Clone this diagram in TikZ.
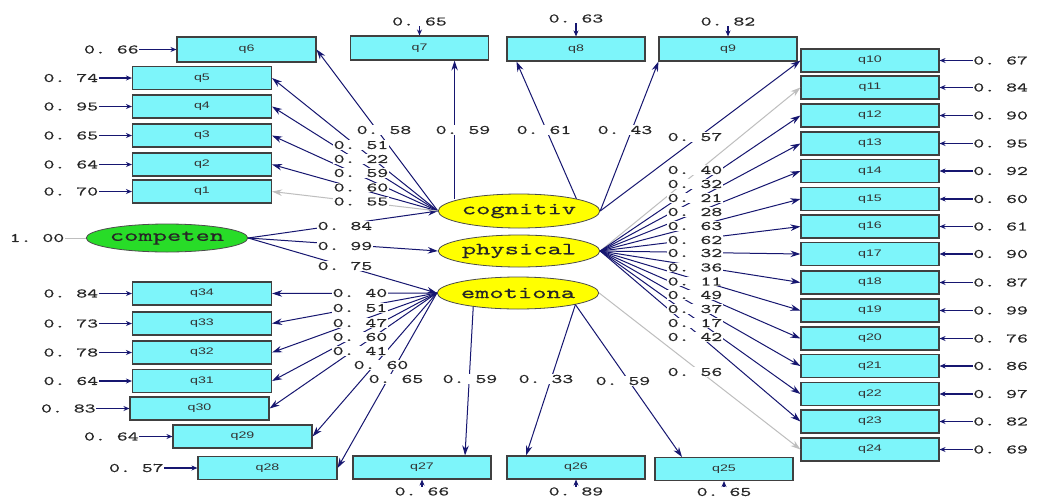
\documentclass[tikz,border=0pt]{standalone}
\usepackage{fontspec}
\usetikzlibrary{arrows.meta,shapes.geometric}
\newfontfamily\numfont{lmmono10-regular.otf}[FakeStretch=1.6,FakeBold=0.4]
\newfontfamily\boxfont[FakeStretch=1.5]{Liberation Sans}
\newfontfamily\lvfont{lmmono10-regular.otf}[FakeStretch=1.6,FakeBold=0.4]
\definecolor{navy}{RGB}{22,22,112}
\definecolor{cyanbox}{RGB}{125,245,250}
\definecolor{lvyellow}{RGB}{255,255,0}
\definecolor{lvgreen}{RGB}{40,220,40}
\definecolor{lgray}{RGB}{190,190,190}
\tikzset{
  obs/.style={draw=black!75, line width=1.1pt, fill=cyanbox, minimum width=139pt, minimum height=23pt, inner sep=0pt, font=\boxfont\fontsize{9.5}{10}\selectfont, text=black!80},
  lv/.style={ellipse, draw=black!70, line width=0.8pt, fill=lvyellow, minimum width=138pt, minimum height=33pt, inner sep=0pt, font=\lvfont\fontsize{17}{17}\selectfont, text=black!85},
  lbl/.style={fill=white, inner sep=0.6pt, font=\numfont\fontsize{13}{13}\selectfont\frenchspacing, text=black!85},
  ld/.style={draw=navy, line width=1pt, -{Stealth[length=10pt,width=6.5pt]}},
  lg/.style={draw=lgray, line width=1pt, -{Stealth[length=10pt,width=6.5pt]}},
  err/.style={draw=navy, line width=1.2pt, -{Stealth[length=6pt,width=5pt]}},
}
\begin{document}
\begin{tikzpicture}[x=1pt,y=-1pt]
\useasboundingbox[fill=white] (0,0) rectangle (1037,499);
% latent variables
\node[lv, fill=lvgreen, minimum width=141pt, minimum height=28pt] (comp) at (167,238) {competen};
\node[lv, minimum height=34pt] (cog) at (519,211) {cognitiv};
\node[lv, minimum height=32pt] (phy) at (519,251) {physical};
\node[lv, minimum height=32pt] (emo) at (518,293) {emotiona};
% left boxes
\node[obs, minimum height=25pt] (q6) at (246.5,49.5) {q6};
\node[obs] (q5) at (202,78) {q5};
\node[obs] (q4) at (202,106.5) {q4};
\node[obs] (q3) at (202,135.5) {q3};
\node[obs] (q2) at (202,164.5) {q2};
\node[obs] (q1) at (202,191.5) {q1};
\node[obs] (q34) at (202,293.5) {q34};
\node[obs] (q33) at (202,323.5) {q33};
\node[obs] (q32) at (202,352.5) {q32};
\node[obs] (q31) at (202,381) {q31};
\node[obs] (q30) at (199.5,408.5) {q30};
\node[obs] (q29) at (242.5,436.5) {q29};
\node[obs] (q28) at (267.5,468) {q28};
% top boxes
\node[obs, minimum width=138pt, minimum height=24pt] (q7) at (419.5,48) {q7};
\node[obs, minimum width=138pt, minimum height=24pt] (q8) at (576,49) {q8};
\node[obs, minimum width=138pt, minimum height=24pt] (q9) at (728,49) {q9};
% bottom boxes
\node[obs, minimum width=138pt] (q27) at (422,467.5) {q27};
\node[obs, minimum width=138pt] (q26) at (576,467.5) {q26};
\node[obs, minimum width=138pt] (q25) at (724,469) {q25};
% right boxes
\node[obs, minimum width=138pt] (q10) at (870,60.5) {q10};
\node[obs, minimum width=138pt] (q11) at (870,87.5) {q11};
\node[obs, minimum width=138pt] (q12) at (870,115.5) {q12};
\node[obs, minimum width=138pt] (q13) at (870,143.5) {q13};
\node[obs, minimum width=138pt] (q14) at (870,171) {q14};
\node[obs, minimum width=138pt] (q15) at (870,199) {q15};
\node[obs, minimum width=138pt] (q16) at (870,226.5) {q16};
\node[obs, minimum width=138pt] (q17) at (870,254) {q17};
\node[obs, minimum width=138pt] (q18) at (870,282.5) {q18};
\node[obs, minimum width=138pt] (q19) at (870,310.5) {q19};
\node[obs, minimum width=138pt] (q20) at (870,338.5) {q20};
\node[obs, minimum width=138pt] (q21) at (870,366) {q21};
\node[obs, minimum width=138pt] (q22) at (870,394) {q22};
\node[obs, minimum width=138pt] (q23) at (870,421.5) {q23};
\node[obs, minimum width=138pt] (q24) at (870,449.5) {q24};
% helper coordinates
\coordinate (c7) at ([xshift=-7pt]cog.north west);
\coordinate (q8in) at ([xshift=10pt]q8.south west);
\coordinate (q27in) at ([xshift=43pt]q27.north);
\coordinate (q26in) at ([xshift=-50pt]q26.north);
\coordinate (q25in) at ([xshift=-42pt]q25.north);
% competen paths
\draw[ld] (comp.east) -- (cog.west);
\draw[ld] (comp.east) -- (phy.west);
\draw[ld] (comp.east) -- (emo.west);
% cognitiv loadings
\draw[ld] (cog.west) -- (q6.east);
\draw[ld] (cog.west) -- (q5.east);
\draw[ld] (cog.west) -- (q4.east);
\draw[ld] (cog.west) -- (q3.east);
\draw[ld] (cog.west) -- (q2.east);
\draw[lg] (cog.west) -- (q1.east);
\draw[ld] (c7) -- (c7 |- q7.south);
\draw[ld] (cog.north east) -- (q8in);
\draw[ld] (cog.east) -- (q9.south west);
\draw[ld] (cog.east) -- (q10.west);
% physical loadings
\draw[lg] (phy.east) -- (q11.west);
\foreach \i in {12,...,23} { \draw[ld] (phy.east) -- (q\i.west); }
% emotiona loadings
\draw[lg] (emo.east) -- (q24.west);
\draw[ld] (emo.197) -- (q27in);
\draw[ld] (emo.south east) -- (q26in);
\draw[ld] (emo.south east) -- (q25in);
\foreach \i in {34,33,32,31,30,29,28} { \draw[ld] (emo.west) -- (q\i.east); }
% error terms
\node[lbl] (e0) at (37,238) {1. 00};
\draw[draw=lgray, line width=0.8pt] (e0) -- (comp);
\node[lbl, anchor=east] (e6) at ([xshift=-37pt]q6.west) {0. 66};
\draw[err] (e6) -- (q6);
\foreach \i/\v in {5/0. 74,4/0. 95,3/0. 65,2/0. 64,1/0. 70,34/0. 84,33/0. 73,32/0. 78,31/0. 64,30/0. 83,29/0. 64,28/0. 57} {
  \node[lbl, anchor=east] (e\i) at ([xshift=-33pt]q\i.west) {\v};
  \draw[err] (e\i) -- (q\i);
}
\foreach \i/\v in {10/0. 67,11/0. 84,12/0. 90,13/0. 95,14/0. 92,15/0. 60,16/0. 61,17/0. 90,18/0. 87,19/0. 99,20/0. 76,21/0. 86,22/0. 97,23/0. 82,24/0. 69} {
  \node[lbl, anchor=west] (e\i) at ([xshift=33pt]q\i.east) {\v};
  \draw[err] (e\i) -- (q\i);
}
\node[lbl, anchor=south] (e7) at ([yshift=9pt]q7.north) {0. 65};
\node[lbl, anchor=south] (e8) at ([yshift=13pt]q8.north) {0. 63};
\node[lbl, anchor=south] (e9) at ([yshift=10pt]q9.north) {0. 82};
\draw[err] (e7) -- (q7);
\draw[err] (e8) -- (q8);
\draw[err] (e9) -- (q9);
\node[lbl, anchor=north] (e27) at ([yshift=-7pt]q27.south) {0. 66};
\node[lbl, anchor=north] (e26) at ([yshift=-7pt]q26.south) {0. 89};
\node[lbl, anchor=north] (e25) at ([yshift=-6pt]q25.south) {0. 65};
\draw[err] (e27) -- (q27);
\draw[err] (e26) -- (q26);
\draw[err] (e25) -- (q25);
% loading labels
\node[lbl] (l84) at (345,226) {0. 84};
\node[lbl] (l99) at (345,246) {0. 99};
\node[lbl] (l75) at (345,266) {0. 75};
\node[lbl] (l6) at (384,130) {0. 58};
\node[lbl] (l5) at (361,145) {0. 51};
\node[lbl] (l4) at (361,159) {0. 22};
\node[lbl] (l3) at (361,173) {0. 59};
\node[lbl] (l2) at (361,187.5) {0. 60};
\node[lbl] (l1) at (361,201.5) {0. 55};
\node[lbl] (l7) at (463,130) {0. 59};
\node[lbl] (l8) at (544,130) {0. 61};
\node[lbl] (l9) at (625,130) {0. 43};
\node[lbl] (l10) at (695,137) {0. 57};
\node[lbl] (l11) at (695,170) {0. 40};
\node[lbl] (l12) at (695,184) {0. 32};
\node[lbl] (l13) at (695,198) {0. 21};
\node[lbl] (l14) at (695,212) {0. 28};
\node[lbl] (l15) at (695,226) {0. 63};
\node[lbl] (l16) at (695,240) {0. 62};
\node[lbl] (l17) at (695,253) {0. 32};
\node[lbl] (l18) at (695,267.5) {0. 36};
\node[lbl] (l19) at (695,281.5) {0. 11};
\node[lbl] (l20) at (695,295) {0. 49};
\node[lbl] (l21) at (695,309) {0. 37};
\node[lbl] (l22) at (695,323) {0. 17};
\node[lbl] (l23) at (695,337) {0. 42};
\node[lbl] (l24) at (695,372) {0. 56};
\node[lbl] (l34) at (360,293) {0. 40};
\node[lbl] (l33) at (360,308) {0. 51};
\node[lbl] (l32) at (360,323) {0. 47};
\node[lbl] (l31) at (360,337) {0. 60};
\node[lbl] (l30) at (360,351) {0. 41};
\node[lbl] (l29) at (381,365) {0. 60};
\node[lbl] (l28) at (396,379) {0. 65};
\node[lbl] (l27) at (470,379) {0. 59};
\node[lbl] (l26) at (546,379) {0. 33};
\node[lbl] (l25) at (623,381) {0. 59};
\end{tikzpicture}
\end{document}
